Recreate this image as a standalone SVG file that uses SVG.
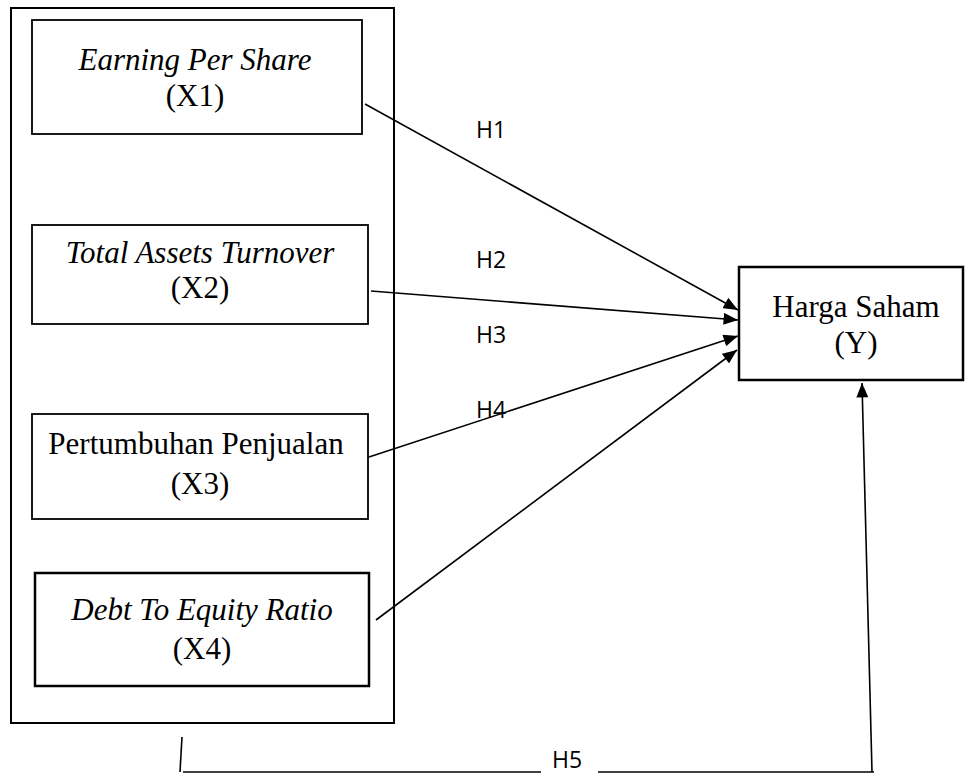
<svg xmlns="http://www.w3.org/2000/svg" width="965" height="775" viewBox="0 0 965 775">
<style>
.box{fill:#fff;stroke:#000;stroke-width:1.8}
.thick{stroke-width:2.5}
.t{font-family:"Liberation Serif","Times New Roman",serif;font-size:31px;fill:#000;text-anchor:middle}
.i{font-style:italic}
.h{font-family:"Open Sans","Liberation Sans",sans-serif;font-size:23px;fill:#000}
.ln{stroke:#000;stroke-width:1.6;fill:none}
</style>
<defs>
<marker id="a" viewBox="0 0 12 10" refX="12" refY="5" markerWidth="15" markerHeight="12" markerUnits="userSpaceOnUse" orient="auto">
<path d="M0,0 L12,5 L0,10 z" fill="#000"/>
</marker>
</defs>
<rect id="outer" x="11" y="8" width="383" height="715" fill="none" stroke="#000" stroke-width="2"/>
<g id="x1">
<rect class="box" x="32" y="20" width="330" height="114"/>
<text class="t i" x="195" y="70">Earning Per Share</text>
<text class="t" x="195" y="106">(X1)</text>
</g>
<g id="x2">
<rect class="box" x="32" y="225" width="336" height="99"/>
<text class="t i" x="200" y="263">Total Assets Turnover</text>
<text class="t" x="200" y="298">(X2)</text>
</g>
<g id="x3">
<rect class="box" x="32" y="414" width="336" height="105"/>
<text class="t" x="196" y="454">Pertumbuhan Penjualan</text>
<text class="t" x="200" y="494">(X3)</text>
</g>
<g id="x4">
<rect class="box thick" x="35" y="573" width="334" height="113"/>
<text class="t i" x="202" y="620">Debt To Equity Ratio</text>
<text class="t" x="202" y="659">(X4)</text>
</g>
<g id="y">
<rect class="box thick" x="739" y="267" width="224" height="113"/>
<text class="t" x="856" y="317">Harga Saham</text>
<text class="t" x="856" y="353">(Y)</text>
</g>
<g id="connectors">
<line class="ln" x1="365" y1="104" x2="738" y2="310" marker-end="url(#a)"/>
<line class="ln" x1="371" y1="291" x2="738" y2="320" marker-end="url(#a)"/>
<line class="ln" x1="369" y1="457" x2="738" y2="336" marker-end="url(#a)"/>
<line class="ln" x1="376" y1="620" x2="737" y2="350" marker-end="url(#a)"/>
<line class="ln" x1="182" y1="737" x2="180" y2="772"/>
<line class="ln" x1="183" y1="772" x2="541" y2="772"/>
<line class="ln" x1="598" y1="772" x2="874" y2="772"/>
<line class="ln" x1="872" y1="772" x2="862" y2="383" marker-end="url(#a)"/>
</g>
<g id="labels">
<text class="h" x="476" y="138">H1</text>
<text class="h" x="476" y="268">H2</text>
<text class="h" x="476" y="343">H3</text>
<text class="h" x="476" y="418">H4</text>
<text class="h" x="552" y="768">H5</text>
</g>
</svg>
